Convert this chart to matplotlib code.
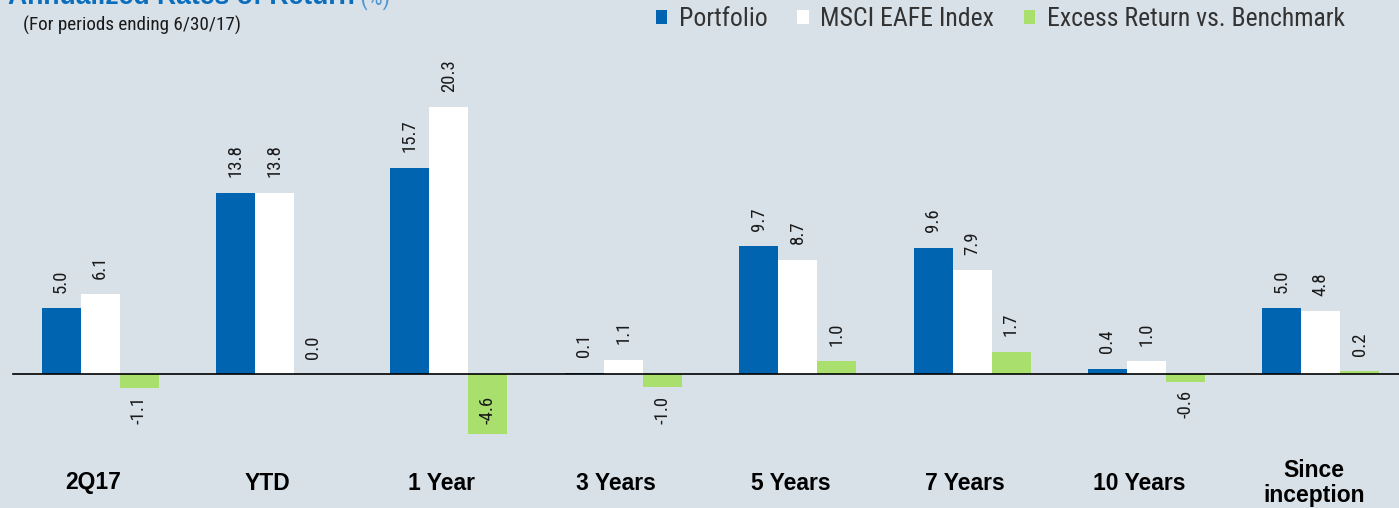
import numpy as np
import matplotlib
matplotlib.use("Agg")
import matplotlib.pyplot as plt
from matplotlib import font_manager

categories = ["2Q17", "YTD", "1 Year", "3 Years", "5 Years", "7 Years", "10 Years", "Since\ninception"]
series_names = ["Portfolio", "MSCI EAFE Index", "Excess Return vs. Benchmark"]
portfolio = [5.0, 13.8, 15.7, 0.1, 9.7, 9.6, 0.4, 5.0]
msci_eafe = [6.1, 13.8, 20.3, 1.1, 8.7, 7.9, 1.0, 4.8]
excess = [-1.1, 0.0, -4.6, -1.0, 1.0, 1.7, -0.6, 0.2]

# pick a condensed face if one is installed
installed = {f.name for f in font_manager.fontManager.ttflist}
narrow = next((n for n in ["Liberation Sans Narrow", "Roboto Condensed", "DejaVu Sans Condensed"]
               if n in installed), "Liberation Sans")
wide = "Liberation Sans"

bg = "#d9e1e8"
colors = ["#0064b0", "#ffffff", "#a9df6c"]
txt = "#1a1a1a"

W, H = 1399, 508
fig = plt.figure(figsize=(W / 100, H / 100), dpi=100, facecolor=bg)
ax = fig.add_axes([0, 0, 1, 1])
ax.set_facecolor(bg)
ax.axis("off")

# pixel layout -> data limits
gap_px = 174.4
x0_px = 100
zero_px = 374
unit_px = 13.15
ax.set_xlim(-x0_px / gap_px, (W - x0_px) / gap_px)
ax.set_ylim(-(H - zero_px) / unit_px, zero_px / unit_px)

x = np.arange(len(categories))
w = 39 / gap_px
for k, (vals, c, name) in enumerate(zip([portfolio, msci_eafe, excess], colors, series_names)):
    xs = x + (k - 1) * w
    ax.bar(xs, vals, width=w, color=c, label=name, linewidth=0, zorder=2)
    for xi, v in zip(xs, vals):
        if v >= 0:
            ax.annotate(f"{v:.1f}", (xi, v), xytext=(0, 11), textcoords="offset points",
                        rotation=90, ha="center", va="bottom", fontsize=13.5,
                        family=narrow, color=txt)
        else:
            ax.annotate(f"{v:.1f}", (xi, max(v, -1.0)), xytext=(0, -6), textcoords="offset points",
                        rotation=90, ha="center", va="top", fontsize=13.5,
                        family=narrow, color=txt, zorder=3)

ax.plot([(13 - x0_px) / gap_px, (W - x0_px) / gap_px], [0, 0], color="black", lw=1.2, zorder=3)

for xi, cat in zip(x, categories):
    ax.text(xi - 0.04, (zero_px - 483) / unit_px, cat, ha="center", va="center",
            multialignment="center", fontsize=16.5, fontweight="bold", family=wide,
            color="black", linespacing=1.15)

# title, mostly cut off at the top edge as in the source
title = fig.text(8 / W, 1 - 4 / H, "Annualized Rates of Return", fontsize=19.2, fontweight="bold",
                 family=wide, color="#0a6ebd", ha="left", va="baseline")
ax.annotate(" (%)", xy=(1, 0), xycoords=title, fontsize=17, family=narrow,
            color="#4f95d0", ha="left", va="bottom")

fig.text(23 / W, 1 - 25 / H, "(For periods ending 6/30/17)", fontsize=13.8, family=narrow,
         color=txt, ha="left", va="center")

leg = ax.legend(loc="center right", bbox_to_anchor=(1345 / W, 1 - 19 / H),
                bbox_transform=fig.transFigure, ncol=3, frameon=False,
                prop={"family": narrow, "size": 18.5}, handlelength=0.45, handleheight=0.45,
                handletextpad=0.45, columnspacing=1.15, borderpad=0, borderaxespad=0)
for t in leg.get_texts():
    t.set_color("#333333")

fig.savefig("out.png", dpi=100, facecolor=bg)
